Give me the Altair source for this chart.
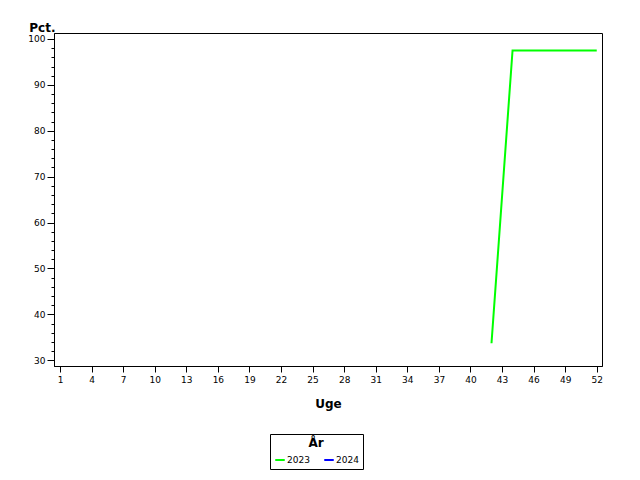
import altair as alt
import pandas as pd

weeks = [42, 44, 45, 46, 47, 48, 49, 50, 51, 52]
pct_2023 = [33.7, 97.5, 97.5, 97.5, 97.5, 97.5, 97.5, 97.5, 97.5, 97.5]
years = ["2023", "2024"]
colors = ["#00ff00", "#0000ff"]
x_ticks = list(range(1, 53, 3))
y_ticks = list(range(30, 101, 2))

df = pd.DataFrame({"Uge": weeks, "Pct": pct_2023, "År": ["2023"] * len(weeks)})

FONT = "DejaVu Sans"

chart = alt.Chart(df).mark_line(strokeWidth=2, interpolate="linear").encode(
    x=alt.X(
        "Uge:Q",
        scale=alt.Scale(domain=[0.43, 52.5], nice=False, zero=False),
        axis=alt.Axis(
            values=x_ticks, title="Uge", grid=False, tickSize=6, labelPadding=3,
            labelFontSize=9, labelFont=FONT, titleFont=FONT, titleFontSize=12,
            titleFontWeight="bold", titleY=41, titleBaseline="alphabetic",
            labelFlush=False,
        ),
    ),
    y=alt.Y(
        "Pct:Q",
        scale=alt.Scale(domain=[28.75, 101.3], nice=False, zero=False),
        axis=alt.Axis(
            values=y_ticks, title="Pct.", grid=False,
            labelExpr="datum.value % 10 === 0 ? datum.label : ''",
            tickSize={"condition": {"test": "datum.value % 10 === 0", "value": 7}, "value": 3},
            labelPadding=2,
            labelFontSize=9, labelFont=FONT, titleFont=FONT, titleFontSize=12,
            titleFontWeight="bold", titleAngle=0, titleAlign="right",
            titleX=1, titleY=-2, titleBaseline="alphabetic",
        ),
    ),
    color=alt.Color(
        "År:N",
        scale=alt.Scale(domain=years, range=colors),
        legend=alt.Legend(
            title="År", orient="none", legendX=216, legendY=401,
            direction="horizontal", symbolType="stroke", symbolSize=90,
            symbolStrokeWidth=2, strokeColor="black", padding=4,
            titleAnchor="middle", titleFont=FONT, titleFontSize=12,
            titleFontWeight="bold", labelFont=FONT, labelFontSize=9,
            columnPadding=10, symbolOffset=0, labelOffset=1, titlePadding=4,
        ),
    ),
).properties(
    width=548, height=333,
    autosize=alt.AutoSizeParams(type="none"),
    padding={"left": 46, "top": 25, "right": 30, "bottom": 106},
).configure_view(
    stroke="black", strokeWidth=1,
).configure_axis(
    domainColor="black", tickColor="black", labelColor="black", titleColor="black",
)

chart.save("out.html", embed_options={"renderer": "svg", "actions": False})
